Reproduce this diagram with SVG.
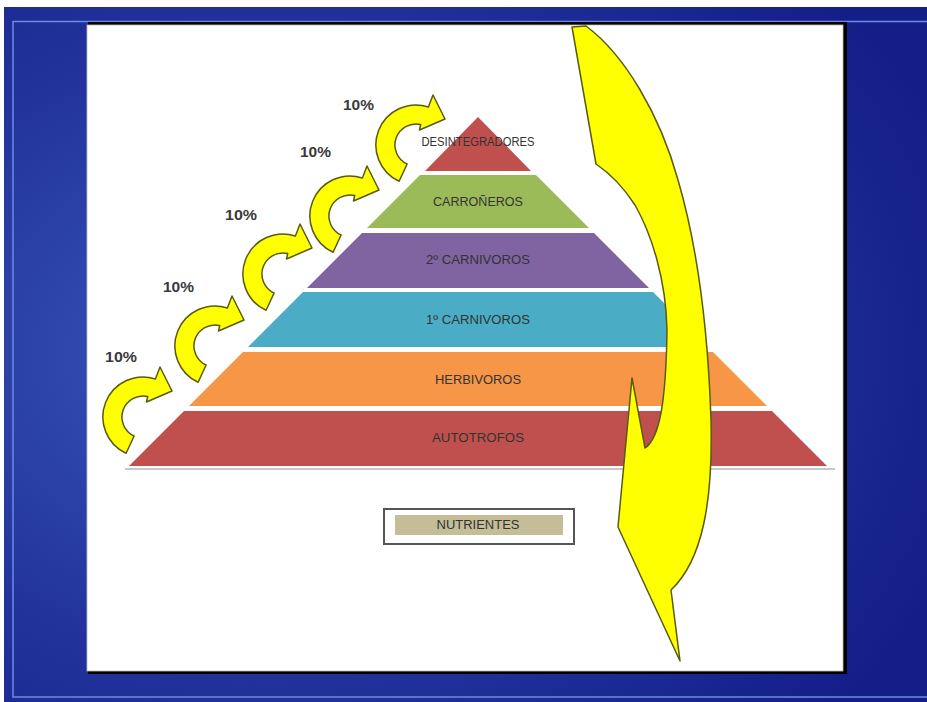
<svg xmlns="http://www.w3.org/2000/svg" width="927" height="702" viewBox="0 0 927 702">
<defs>
<radialGradient id="bg" cx="0.28" cy="0.5" r="0.8">
<stop offset="0" stop-color="#3a58bd"/>
<stop offset="0.55" stop-color="#22349c"/>
<stop offset="1" stop-color="#141e88"/>
</radialGradient>
<path id="carrow" d="M -16.9,36.3 A 40 40 0 0 1 12.4,-38 L 17,-50 L 29,-26 L 3.5,-15 L 4.7,-20.5 A 21 21 0 0 0 -8.9,19 Z"/>
<style>
.ya{fill:#ffff00;stroke:#5a5a14;stroke-width:1.5;stroke-linejoin:round}
.pct{font-family:"Liberation Sans",Arial,sans-serif;font-weight:bold;font-size:14px;fill:#3a3a3a}
.lbl{font-family:"Liberation Sans",Arial,sans-serif;font-size:12px;fill:#333;text-anchor:middle}
.frame{stroke:#6d8be0;stroke-width:1.5;fill:none}
</style>
</defs>
<rect width="927" height="702" fill="#ffffff"/>
<rect x="4" y="7" width="923" height="695" fill="url(#bg)"/>
<polyline class="frame" points="927,21.5 13,21.5 13,697 927,697"/>
<rect x="88" y="22" width="759" height="652" fill="#000"/>
<rect x="87" y="25" width="756" height="646" fill="#fff" stroke="#bbb" stroke-width="0.8"/>

<g id="pyramid">
<g id="desintegradores"><polygon points="478,117 531,171 425,171" fill="#c0504d"/><text class="lbl" x="478" y="146" textLength="113" lengthAdjust="spacingAndGlyphs">DESINTEGRADORES</text></g>
<g id="carroneros"><polygon points="420,175 536,175 589,228 367,228" fill="#9bbb59"/><text class="lbl" x="478" y="206" textLength="90" lengthAdjust="spacingAndGlyphs">CARROÑEROS</text></g>
<g id="carnivoros2"><polygon points="362,233 594,233 649,288 307,288" fill="#8064a2"/><text class="lbl" x="478" y="264" textLength="104" lengthAdjust="spacingAndGlyphs">2º CARNIVOROS</text></g>
<g id="carnivoros1"><polygon points="303,292 653,292 708,347 248,347" fill="#4bacc6"/><text class="lbl" x="478" y="324" textLength="104" lengthAdjust="spacingAndGlyphs">1º CARNIVOROS</text></g>
<g id="herbivoros"><polygon points="243,352 713,352 767,406 189,406" fill="#f79646"/><text class="lbl" x="478" y="384" textLength="86" lengthAdjust="spacingAndGlyphs">HERBIVOROS</text></g>
<g id="autotrofos"><polygon points="184,411 772,411 827,466 129,466" fill="#c0504d"/><text class="lbl" x="478" y="442" textLength="92" lengthAdjust="spacingAndGlyphs">AUTOTROFOS</text></g>
<line x1="125" y1="469" x2="835" y2="469" stroke="#c8c8c8" stroke-width="2"/>
</g>

<g id="nutrientes">
<rect x="384" y="509" width="190" height="35" fill="#fff" stroke="#555" stroke-width="2"/>
<rect x="395" y="515" width="168" height="20" fill="#c4bd97"/>
<text class="lbl" x="478" y="529" textLength="83" lengthAdjust="spacingAndGlyphs">NUTRIENTES</text>
</g>

<g id="connectors">
<use href="#carrow" class="ya" transform="translate(143,417)"/>
<use href="#carrow" class="ya" transform="translate(215,346)"/>
<use href="#carrow" class="ya" transform="translate(283,274)"/>
<use href="#carrow" class="ya" transform="translate(350,216)"/>
<use href="#carrow" class="ya" transform="translate(416,145)"/>
<path class="ya" stroke-width="1.2" d="M 572,27 L 586,26 C 625,55 660,115 678,180 C 697,245 708,330 711,420 C 713,500 703,560 671,590 L 680,661 L 618,527 L 632,378 L 645,448 C 660,438 666,400 667,330 C 666,280 652,235 635,205 C 620,182 605,170 596,164 Z"/>
</g>

<g id="labels">
<text class="pct" x="105" y="362" textLength="32" lengthAdjust="spacingAndGlyphs">10%</text>
<text class="pct" x="163" y="292" textLength="31" lengthAdjust="spacingAndGlyphs">10%</text>
<text class="pct" x="225" y="220" textLength="32" lengthAdjust="spacingAndGlyphs">10%</text>
<text class="pct" x="300" y="157" textLength="31" lengthAdjust="spacingAndGlyphs">10%</text>
<text class="pct" x="343" y="110" textLength="31" lengthAdjust="spacingAndGlyphs">10%</text>
</g>
</svg>
